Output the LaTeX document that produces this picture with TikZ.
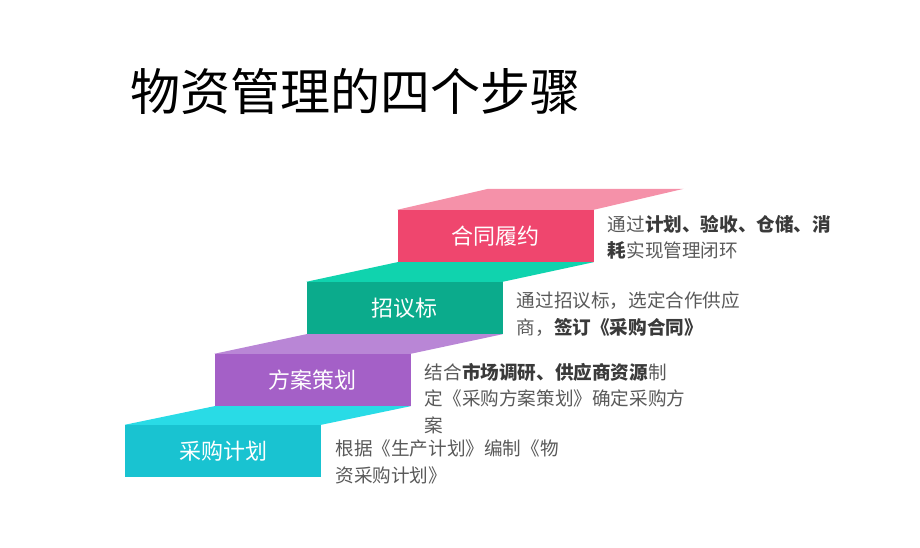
\documentclass[tikz,border=0pt]{standalone}
\usepackage{fontspec}
\setmainfont{Noto Sans CJK SC}
\usetikzlibrary{positioning,calc}
\definecolor{plancol}{HTML}{19C3D1}
\definecolor{plantop}{HTML}{29DBE6}
\definecolor{schemecol}{HTML}{A460C7}
\definecolor{schemetop}{HTML}{B986D6}
\definecolor{bidcol}{HTML}{0BAB8C}
\definecolor{bidtop}{HTML}{10D3AE}
\definecolor{signcol}{HTML}{EF466E}
\definecolor{signtop}{HTML}{F591A9}
\definecolor{desctext}{HTML}{595959}
\definecolor{descdark}{HTML}{3A3A3A}
\newcommand\hl[1]{{\bfseries\color{descdark}#1}}

\begin{document}
\begin{tikzpicture}[x=1pt, y=1pt,
        stepbox/.style={minimum width=196pt, minimum height=52pt, inner sep=0pt,
          text=white, font=\fontsize{22}{26}\selectfont},
        desc/.style={anchor=north west, inner sep=0pt, align=left, text=desctext,
          font=\fontsize{18.6}{26.5}\selectfont}]
        \useasboundingbox (0,0) rectangle (920,548);
        \node[anchor=west, font=\fontsize{50}{58}\selectfont] (title) at (127,457) {物资管理的四个步骤};

        \node[stepbox, fill=plancol] (plan) at (223,97) {采购计划};
        \node[stepbox, fill=schemecol] (scheme) at (312.5,168) {方案策划};
        \node[stepbox, fill=bidcol] (bid) at (404.5,240) {招议标};
        \node[stepbox, fill=signcol] (sign) at (495.5,312) {合同履约};
        \coordinate (signtl) at ($(sign.north west)+(91,21)$);
        \coordinate (signtr) at ($(sign.north east)+(90,21)$);

        \foreach \a/\b/\c in {plan/scheme/plantop, scheme/bid/schemetop, bid/sign/bidtop} {
          \fill[\c] (\a.north west) -- (\a.north east) -- (\b.south east) -- (\b.south west) -- cycle;
        };
        \fill[signtop] (sign.north west) -- (sign.north east) -- (signtr) -- (signtl) -- cycle;

        \node[desc] (plandesc) at ($(plan.east)+(14,11)$)
          {根据《生产计划》编制《物\\资采购计划》};
        \node[desc] (schemedesc) at ($(scheme.east)+(14,17)$)
          {结合\hl{市场调研、供应商资源}制\\定《采购方案策划》确定采购方\\案};
        \node[desc] (biddesc) at ($(bid.east)+(14,16)$)
          {通过招议标，选定合作供应\\商，\hl{签订《采购合同》}};
        \node[desc] (signdesc) at ($(sign.east)+(14,21)$)
          {通过\hl{计划、验收、仓储、消}\\\hl{耗}实现管理闭环};
      \end{tikzpicture}
\end{document}
